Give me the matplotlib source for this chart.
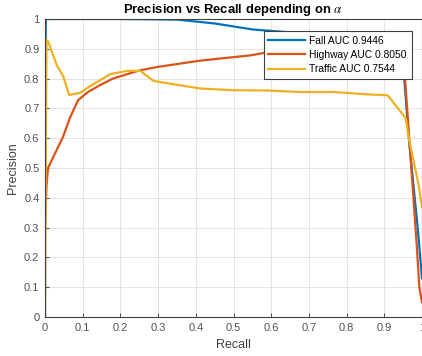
import matplotlib
matplotlib.use("Agg")
from matplotlib import pyplot as plt

# Fall
fall_recall = [0.0, 0.0, 0.002, 0.10, 0.20, 0.35, 0.45, 0.55, 0.65, 0.75, 0.85, 0.93, 0.95, 0.965, 0.99, 1.0]
fall_prec = [0.0, 0.5, 1.0, 1.0, 1.0, 0.998, 0.985, 0.965, 0.955, 0.95, 0.94, 0.93, 0.85, 0.6, 0.28, 0.13]

# Highway
hw_recall = [0.0, 0.004, 0.008, 0.027, 0.048, 0.066, 0.088, 0.114, 0.146, 0.18, 0.226, 0.253, 0.298,
             0.41, 0.545, 0.62, 0.70, 0.80, 0.90, 0.945, 0.955, 0.965, 0.985, 0.993, 1.0]
hw_prec = [0.3, 0.44, 0.5, 0.55, 0.605, 0.668, 0.728, 0.755, 0.778, 0.80, 0.818, 0.828, 0.839,
           0.86, 0.878, 0.895, 0.90, 0.905, 0.90, 0.88, 0.80, 0.62, 0.26, 0.10, 0.05]

# Traffic
tr_recall = [0.0, 0.004, 0.008, 0.031, 0.049, 0.064, 0.093, 0.12, 0.173, 0.218, 0.253, 0.288, 0.41, 0.5,
             0.59, 0.678, 0.767, 0.856, 0.909, 0.957, 0.965, 0.99, 1.0]
tr_prec = [0.0, 0.93, 0.925, 0.846, 0.806, 0.745, 0.752, 0.775, 0.815, 0.826, 0.826, 0.792, 0.767, 0.761,
           0.76, 0.755, 0.755, 0.747, 0.744, 0.667, 0.6, 0.45, 0.37]

labels = ["Fall AUC 0.9446", "Highway AUC 0.8050", "Traffic AUC 0.7544"]
colors = ["#0072BD", "#D95319", "#EDB120"]

plt.rcParams['font.family'] = ['Liberation Sans', 'DejaVu Sans']
plt.rcParams['mathtext.fontset'] = 'stix'

fig = plt.figure(figsize=(4.22, 3.56), dpi=100)
ax = fig.add_axes([45 / 422, 39 / 356, 377 / 422, 298 / 356])

ax.plot(fall_recall, fall_prec, color=colors[0], lw=1.6, label=labels[0])
ax.plot(hw_recall, hw_prec, color=colors[1], lw=1.6, label=labels[1])
ax.plot(tr_recall, tr_prec, color=colors[2], lw=1.6, label=labels[2])

ax.set_xlim(0, 1)
ax.set_ylim(0, 1)
ax.set_xticks([i / 10 for i in range(11)])
ax.set_yticks([i / 10 for i in range(11)])
ax.set_xticklabels(["0", "0.1", "0.2", "0.3", "0.4", "0.5", "0.6", "0.7", "0.8", "0.9", "1"])
ax.set_yticklabels(["0", "0.1", "0.2", "0.3", "0.4", "0.5", "0.6", "0.7", "0.8", "0.9", "1"])
ax.grid(True, color="#e3e3e3", lw=0.7)
ax.set_axisbelow(True)
ax.tick_params(direction="in", length=3, colors="#505050", labelsize=8, labelcolor="#505050", pad=4)
for s in ax.spines.values():
    s.set_color("#404040")
    s.set_linewidth(0.8)

ax.set_xlabel("Recall", fontsize=9, color="#404040", labelpad=5)
ax.set_ylabel("Precision", fontsize=9, color="#404040", labelpad=4)
ax.set_title(r"Precision vs Recall depending on $\alpha$", fontsize=9.4, fontweight="bold", pad=4)

leg = ax.legend(loc="upper right", bbox_to_anchor=(0.986, 0.977), fontsize=7.4, fancybox=False,
                framealpha=1, edgecolor="#404040", handlelength=3.6, handletextpad=0.4,
                borderpad=0.45, labelspacing=0.42)
leg.get_frame().set_linewidth(0.8)

fig.savefig("out.png", dpi=100)
